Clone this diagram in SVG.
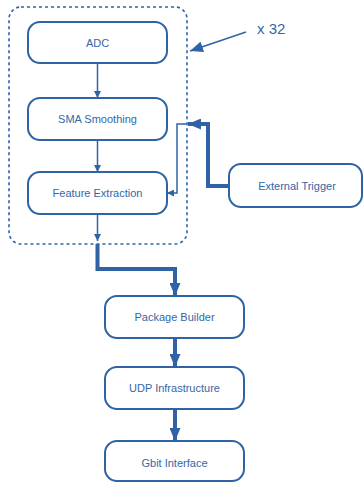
<svg xmlns="http://www.w3.org/2000/svg" width="363" height="482" viewBox="0 0 363 482">
  <defs>
    <marker id="thin" viewBox="0 0 10 10" refX="10" refY="5" markerWidth="7" markerHeight="7" markerUnits="userSpaceOnUse" orient="auto">
      <path d="M0,0 L10,5 L0,10 Z" fill="#2f63a6"/>
    </marker>
    <marker id="thick" viewBox="0 0 10 10" refX="10" refY="5" markerWidth="13" markerHeight="11" markerUnits="userSpaceOnUse" orient="auto" preserveAspectRatio="none">
      <path d="M0,0 L10,5 L0,10 Z" fill="#2f63a6"/>
    </marker>
  </defs>
  <style>
    .box { fill: #ffffff; stroke: #2f63a6; stroke-width: 2; }
    .lbl { font-family: "Liberation Sans", Arial, sans-serif; font-size: 11px; fill: #3467a6; text-anchor: middle; dominant-baseline: central; }
    .thin { fill: none; stroke: #2f63a6; stroke-width: 1.5; }
    .thick { fill: none; stroke: #2f63a6; stroke-width: 4; }
  </style>
  <rect width="363" height="482" fill="#ffffff"/>

  <!-- channel group, repeated 32 times -->
  <rect id="channel" x="9" y="7" width="178" height="237" rx="12" fill="none" stroke="#2f63a6" stroke-width="1.6" stroke-dasharray="3,3"/>

  <g id="adc"><rect class="box" x="28" y="22" width="139" height="41" rx="12"/><text class="lbl" x="97.5" y="43">ADC</text></g>
  <g id="sma"><rect class="box" x="28" y="98" width="139" height="42" rx="12"/><text class="lbl" x="97.5" y="119">SMA Smoothing</text></g>
  <g id="feature"><rect class="box" x="28" y="172" width="139" height="42" rx="12"/><text class="lbl" x="97.5" y="193">Feature Extraction</text></g>
  <g id="trigger"><rect class="box" x="229" y="164" width="133" height="43" rx="12"/><text class="lbl" x="297" y="186">External Trigger</text></g>
  <g id="package"><rect class="box" x="105" y="296" width="139" height="42" rx="12"/><text class="lbl" x="174.5" y="317">Package Builder</text></g>
  <g id="udp"><rect class="box" x="105" y="367" width="139" height="42" rx="12"/><text class="lbl" x="174.5" y="388">UDP Infrastructure</text></g>
  <g id="gbit"><rect class="box" x="105" y="441" width="139" height="40" rx="12"/><text class="lbl" x="174.5" y="463">Gbit Interface</text></g>

  <g id="connectors">
    <path class="thin" d="M97.5,63 V98" marker-end="url(#thin)"/>
    <path class="thin" d="M97.5,140 V172" marker-end="url(#thin)"/>
    <path class="thin" d="M97.5,214 V241" marker-end="url(#thin)"/>
    <path class="thick" d="M97.5,244 V269 H175 V296" marker-end="url(#thick)"/>
    <path class="thick" d="M175,338 V367" marker-end="url(#thick)"/>
    <path class="thick" d="M175,409 V441" marker-end="url(#thick)"/>
    <path class="thick" d="M229,186 H208 V124 H188" marker-end="url(#thick)"/>
    <path class="thin" d="M187,124 H177 V193 H167" marker-end="url(#thin)"/>
    <path d="M246,32 L190,51" fill="none" stroke="#2f63a6" stroke-width="1.5" marker-end="url(#thick)"/>
  </g>

  <text x="257" y="34" font-family="'Liberation Sans', Arial, sans-serif" font-size="15" fill="#3467a6">x 32</text>
</svg>
